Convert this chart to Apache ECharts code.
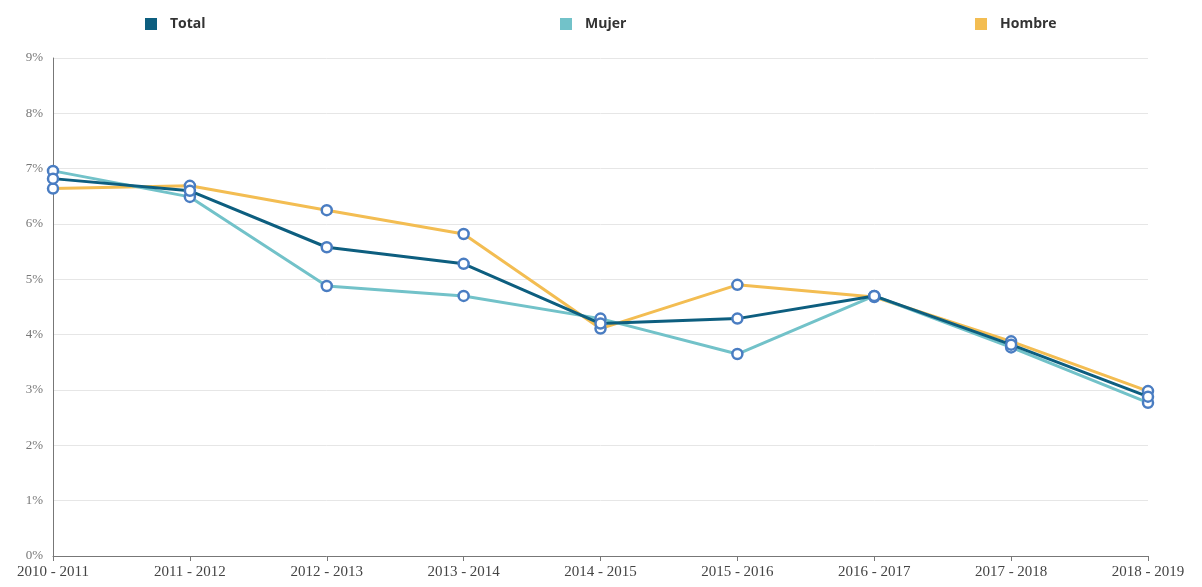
<!DOCTYPE html>
<html><head><meta charset="utf-8">
<script src="https://cdn.jsdelivr.net/npm/echarts@6/dist/echarts.min.js"></script>
<style>html,body{margin:0;padding:0;background:#fff}#c{width:1202px;height:587px}</style>
</head><body><div id="c"></div>
<script>
const categories = ['2010 - 2011','2011 - 2012','2012 - 2013','2013 - 2014','2014 - 2015','2015 - 2016','2016 - 2017','2017 - 2018','2018 - 2019'];
const total  = [6.82, 6.60, 5.58, 5.28, 4.20, 4.29, 4.70, 3.82, 2.88];
const mujer  = [6.96, 6.49, 4.88, 4.70, 4.29, 3.65, 4.70, 3.77, 2.77];
const hombre = [6.64, 6.69, 6.25, 5.82, 4.11, 4.90, 4.68, 3.88, 2.98];
const seriesNames = ['Total','Mujer','Hombre'];
const colors = ['#0d5e7f','#72c2c9','#f3bd52'];
const markerBorder = '#4a7dc2';

const chart = echarts.init(document.getElementById('c'));
function mk(name, data, color){
  return {name, type:'line', data, symbol:'circle', symbolSize:10,
    lineStyle:{width:3,color}, itemStyle:{color:'#fff', borderColor:markerBorder, borderWidth:2.5},
    emphasis:{disabled:true}, z: name==='Total'?4:3};
}
function legend(name, left){
  return {data:[{name, itemStyle:{color:colors[seriesNames.indexOf(name)], borderWidth:0}}], left, top:12, icon:'rect', itemWidth:12, itemHeight:12, itemGap:12,
    textStyle:{fontFamily:'Open Sans', fontWeight:'bold', fontSize:14, color:'#333', padding:[0,0,0,8]}};
}
chart.setOption({
  animation:false,
  color: colors,
  legend:[legend('Total',140), legend('Mujer',555), legend('Hombre',970)],
  grid:{left:53, right:54, top:58, bottom:31, containLabel:false},
  xAxis:{type:'category', data:categories, boundaryGap:false,
    axisLine:{lineStyle:{color:'#777', width:1}},
    axisTick:{show:true, length:5, lineStyle:{color:'#777'}, alignWithLabel:true},
    axisLabel:{fontFamily:'Liberation Serif', fontSize:15, color:'#444', margin:9}},
  yAxis:{type:'value', min:0, max:9, interval:1,
    axisLine:{show:true, lineStyle:{color:'#777'}},
    axisTick:{show:false},
    axisLabel:{formatter:'{value}%', fontFamily:'Liberation Serif', fontSize:13, color:'#777', margin:10},
    splitLine:{lineStyle:{color:'#e6e6e6', width:1}}},
  series:[mk('Hombre',hombre,colors[2]), mk('Mujer',mujer,colors[1]), mk('Total',total,colors[0])]
});
</script></body></html>
